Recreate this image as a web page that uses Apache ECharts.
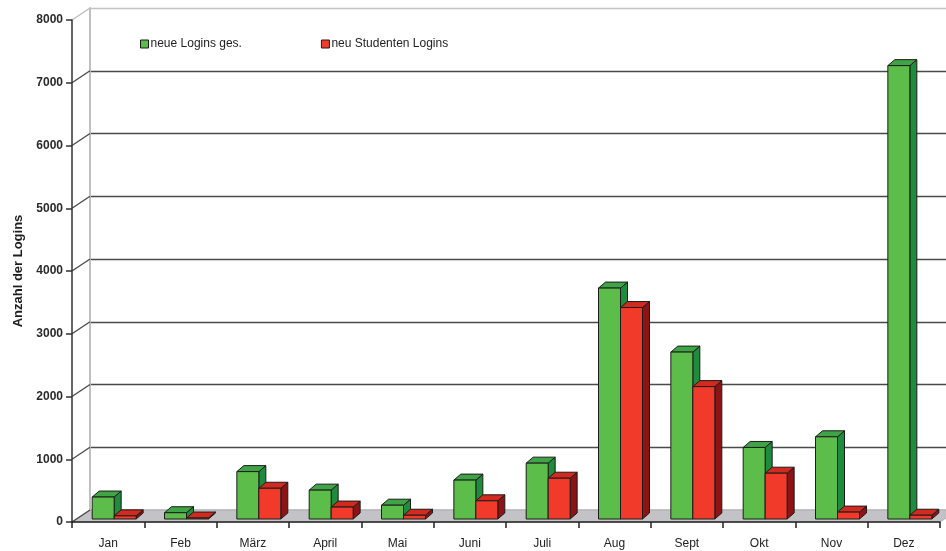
<!DOCTYPE html>
<html>
<head>
<meta charset="utf-8">
<script src="https://cdn.jsdelivr.net/npm/echarts@6/dist/echarts.min.js"></script>
<style>
  html, body { margin: 0; padding: 0; background: #ffffff; }
  #chart { width: 946px; height: 551px; }
</style>
</head>
<body>
<div id="chart"></div>
<script>
// Monthly login counts
const months = ['Jan', 'Feb', 'März', 'April', 'Mai', 'Juni', 'Juli', 'Aug', 'Sept', 'Okt', 'Nov', 'Dez'];
const neueLogins = [350, 100, 755, 460, 220, 620, 890, 3680, 2660, 1140, 1310, 7225];
const studentenLogins = [50, 15, 490, 190, 60, 290, 650, 3370, 2110, 730, 110, 60];
const yTicks = [0, 1000, 2000, 3000, 4000, 5000, 6000, 7000, 8000];

const seriesNames = ['neue Logins ges.', 'neu Studenten Logins'];

// Pseudo-3D look: offset of the back wall and of the bars
const WALL_DX = 18, WALL_DY = 12;
const BAR_OX = 6, BAR_OY = 3;      // front face of the bars sits slightly inside the floor
const BAR_DX = 7, BAR_DY = 6;      // depth of one bar
const BAR_FRAC = 0.304;            // bar width relative to the category band

const palettes = [
  { front: '#5dbd4a', top: '#3fa446', side: '#1f8b3c' },
  { front: '#f23a2b', top: '#d22a1f', side: '#8c1414' }
];
const EDGE = '#1c1c1c';

const chart = echarts.init(document.getElementById('chart'));

const font = 'Liberation Sans, Arial, sans-serif';

function barRenderer(seriesIdx) {
  const pal = palettes[seriesIdx];
  return function (params, api) {
    const i = api.value(0);
    const v = api.value(1);
    const base = api.coord([i, 0]);
    const topP = api.coord([i, v]);
    const band = api.size([1, 0])[0];
    const w = band * BAR_FRAC;
    const cx = base[0] + BAR_OX;
    const x0 = seriesIdx === 0 ? cx - w : cx;
    const x1 = x0 + w;
    const yB = base[1] - BAR_OY;
    const yT = topP[1] - BAR_OY;
    const stroke = { stroke: EDGE, lineWidth: 1, lineJoin: 'round' };
    return {
      type: 'group',
      children: [
        {
          type: 'polygon',
          shape: { points: [[x1, yT], [x1 + BAR_DX, yT - BAR_DY], [x1 + BAR_DX, yB - BAR_DY], [x1, yB]] },
          style: Object.assign({ fill: pal.side }, stroke)
        },
        {
          type: 'polygon',
          shape: { points: [[x0, yT], [x1, yT], [x1 + BAR_DX, yT - BAR_DY], [x0 + BAR_DX, yT - BAR_DY]] },
          style: Object.assign({ fill: pal.top }, stroke)
        },
        {
          type: 'rect',
          shape: { x: x0, y: yT, width: w, height: yB - yT },
          style: Object.assign({ fill: pal.front }, stroke)
        }
      ]
    };
  };
}

// Grey floor under the bars
function floorRenderer(params, api) {
  const band = api.size([1, 0])[0];
  const left = api.coord([0, 0])[0] - band / 2;
  const right = api.coord([months.length - 1, 0])[0] + band / 2;
  const y = api.coord([0, 0])[1];
  return {
    type: 'polygon',
    shape: { points: [[left, y], [right, y], [right + WALL_DX, y - WALL_DY], [left + WALL_DX, y - WALL_DY]] },
    style: { fill: '#c3c3c7', stroke: '#b0b0b4', lineWidth: 1 }
  };
}

// Slanted connectors from the front value ticks to the back wall grid lines
function connectorRenderer(params, api) {
  const v = api.value(1);
  const band = api.size([1, 0])[0];
  const p = api.coord([0, v]);
  const left = p[0] - band / 2;
  return {
    type: 'line',
    shape: { x1: left, y1: p[1], x2: left + WALL_DX, y2: p[1] - WALL_DY },
    style: { stroke: v === 8000 ? '#bdbdbd' : '#4a4a4a', lineWidth: 1.4 }
  };
}

const wallColors = yTicks.map(t => (t === 8000 ? '#c4c4c4' : '#4a4a4a'));

const option = {
  backgroundColor: '#ffffff',
  animation: false,
  textStyle: { fontFamily: font },
  legend: {
    left: 140,
    top: 38,
    padding: 0,
    itemWidth: 8,
    itemHeight: 8,
    itemGap: 79,
    icon: 'rect',
    data: seriesNames,
    itemStyle: { borderColor: '#1c1c1c', borderWidth: 1 },
    textStyle: { fontFamily: font, fontSize: 12, color: '#1e1e1e', padding: [0, 0, 0, -3] }
  },
  grid: [
    { left: 72, right: 6, top: 20, bottom: 29, containLabel: false },
    { left: 72 + WALL_DX, right: 6 - WALL_DX, top: 20 - WALL_DY, bottom: 29 + WALL_DY, containLabel: false }
  ],
  xAxis: [
    {
      gridIndex: 0,
      type: 'category',
      data: months,
      z: 5,
      axisLine: { show: true, lineStyle: { color: '#222', width: 1.5 } },
      axisTick: { show: true, length: 6, interval: 0, lineStyle: { color: '#222', width: 1.5 } },
      axisLabel: { interval: 0, margin: 16, fontFamily: font, fontSize: 12, color: '#222' },
      splitLine: { show: false }
    },
    {
      gridIndex: 1,
      type: 'category',
      data: months,
      show: false
    }
  ],
  yAxis: [
    {
      gridIndex: 0,
      type: 'value',
      min: 0,
      max: 8000,
      interval: 1000,
      z: 5,
      name: 'Anzahl der Logins',
      nameLocation: 'middle',
      nameGap: 46,
      nameTextStyle: { fontFamily: font, fontSize: 13, fontWeight: 'bold', color: '#1e1e1e' },
      axisLine: { show: true, lineStyle: { color: '#333', width: 1.5 } },
      axisTick: { show: true, length: 6, lineStyle: { color: '#333', width: 1.5 } },
      axisLabel: {
        margin: 9, fontFamily: font, fontSize: 12, fontWeight: 'bold', color: '#2a2a2a',
        formatter: v => String(v)
      },
      splitLine: { show: false }
    },
    {
      gridIndex: 1,
      type: 'value',
      min: 0,
      max: 8000,
      interval: 1000,
      axisLine: { show: true, lineStyle: { color: '#c0c0c0', width: 2 } },
      axisTick: { show: false },
      axisLabel: { show: false },
      splitLine: { show: true, lineStyle: { color: wallColors, width: 1.4 } }
    }
  ],
  series: [
    {
      type: 'custom',
      name: 'floor',
      xAxisIndex: 0,
      yAxisIndex: 0,
      z: 1,
      silent: true,
      renderItem: floorRenderer,
      data: [[0, 0]]
    },
    {
      type: 'custom',
      name: 'connectors',
      xAxisIndex: 0,
      yAxisIndex: 0,
      z: 1,
      silent: true,
      clip: false,
      renderItem: connectorRenderer,
      data: yTicks.map(t => [0, t])
    },
    {
      type: 'custom',
      name: seriesNames[0],
      xAxisIndex: 0,
      yAxisIndex: 0,
      z: 3,
      itemStyle: { color: '#5dbd4a' },
      renderItem: barRenderer(0),
      encode: { x: 0, y: 1 },
      data: neueLogins.map((v, i) => [i, v])
    },
    {
      type: 'custom',
      name: seriesNames[1],
      xAxisIndex: 0,
      yAxisIndex: 0,
      z: 4,
      itemStyle: { color: '#f23a2b' },
      renderItem: barRenderer(1),
      encode: { x: 0, y: 1 },
      data: studentenLogins.map((v, i) => [i, v])
    }
  ]
};

chart.setOption(option);
</script>
</body>
</html>
